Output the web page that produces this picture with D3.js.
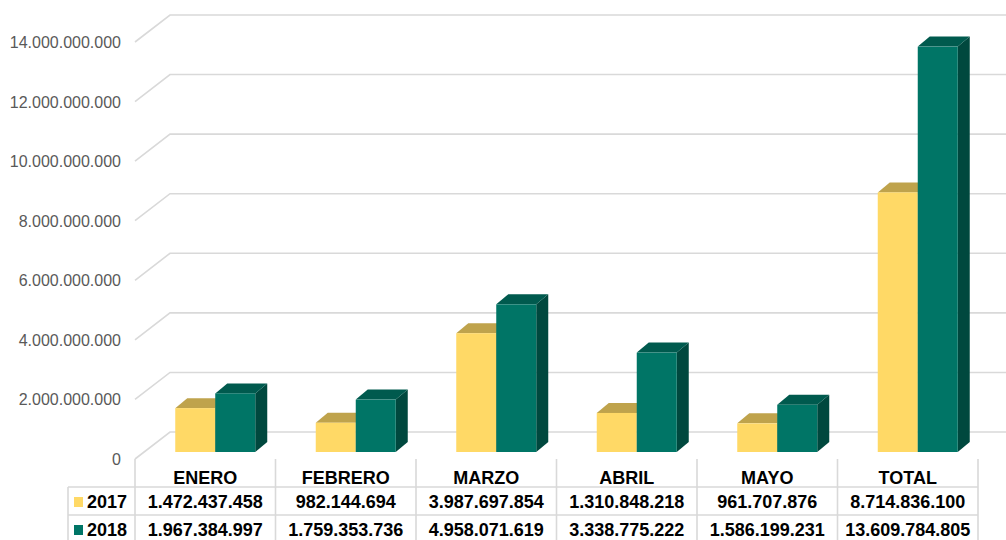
<!DOCTYPE html>
<html>
<head>
<meta charset="utf-8">
<script src="https://cdn.jsdelivr.net/npm/d3@7"></script>
<style>
  body { margin: 0; background: #fff; }
  svg { display: block; font-family: "Liberation Sans", Arial, sans-serif; }
</style>
</head>
<body>
<svg id="chart" width="1006" height="540"></svg>
<script>
// data
var categories = ["ENERO", "FEBRERO", "MARZO", "ABRIL", "MAYO", "TOTAL"];
var series = ["2017", "2018"];
var values2017 = [1472437458, 982144694, 3987697854, 1310848218, 961707876, 8714836100];
var values2018 = [1967384997, 1759353736, 4958071619, 3338775222, 1586199231, 13609784805];
var tickValues = [0, 2e9, 4e9, 6e9, 8e9, 10e9, 12e9, 14e9];

var colors = {
  "2017": { front: "#FFD966", top: "#BFA34C", side: "#A88E40" },
  "2018": { front: "#007566", top: "#005A4E", side: "#00483E" }
};

var svg = d3.select("#chart");

// the "0" plane sits at the front of the floor; walls go back by depth
var left = 135, right = 978, base = 459, topY = 42;
var wallDx = 35, wallDy = -27;
var barShiftX = 10, barShiftY = -7;   // bars sit a bit into the box
var barDx = 12, barDy = -10;          // depth of each bar

var x = d3.scaleBand().domain(categories).range([left, right]);
var y = d3.scaleLinear().domain([0, 14e9]).range([base, topY]);

var fmt = function(v) {
  return d3.format(",")(v).replace(/,/g, ".");
};

// gridlines: diagonal on the side wall, then across the back wall
var grid = svg.append("g").attr("stroke", "#D9D9D9").attr("stroke-width", 1.6).attr("fill", "none");
tickValues.forEach(function(t) {
  grid.append("polyline")
    .attr("points", [[left, y(t)], [left + wallDx, y(t) + wallDy], [1006, y(t) + wallDy]].map(function(p) { return p.join(","); }).join(" "));
});

// y tick labels
svg.append("g").selectAll("text")
  .data(tickValues)
  .enter().append("text")
  .attr("x", 121)
  .attr("y", function(d) { return y(d) + 6; })
  .attr("text-anchor", "end")
  .attr("font-size", 16)
  .attr("fill", "#595959")
  .text(function(d) { return fmt(d); });

// bars
var barW = 40;
var rows = [values2017, values2018];
var bars = svg.append("g");
categories.forEach(function(c, i) {
  var cx = x(c) + x.bandwidth() / 2 + barShiftX;
  series.forEach(function(s, j) {
    var v = rows[j][i];
    var x0 = cx - barW + j * barW, x1 = x0 + barW;
    var yb = y(0) + barShiftY, yt = y(v) + barShiftY;
    var col = colors[s];
    // side
    bars.append("polygon")
      .attr("points", [[x1, yb], [x1 + barDx, yb + barDy], [x1 + barDx, yt + barDy], [x1, yt]].join(" "))
      .attr("fill", col.side);
    // top
    bars.append("polygon")
      .attr("points", [[x0, yt], [x0 + barDx, yt + barDy], [x1 + barDx, yt + barDy], [x1, yt]].join(" "))
      .attr("fill", col.top);
    // front
    bars.append("rect")
      .attr("x", x0).attr("y", yt)
      .attr("width", barW).attr("height", yb - yt)
      .attr("fill", col.front);
  });
});

// data table
var rowH = 28;
var tableLeft = 68;
var table = svg.append("g").attr("stroke", "#D9D9D9").attr("stroke-width", 1.6);
// column separators from floor line down
categories.concat(["end"]).forEach(function(c, i) {
  var xx = i < categories.length ? x(c) : right;
  table.append("line").attr("x1", xx).attr("x2", xx).attr("y1", base).attr("y2", 540);
});
table.append("line").attr("x1", tableLeft).attr("x2", tableLeft).attr("y1", base + rowH).attr("y2", 540);
[1, 2, 3].forEach(function(r) {
  table.append("line").attr("x1", tableLeft).attr("x2", right)
    .attr("y1", base + r * rowH).attr("y2", base + r * rowH);
});

var txt = svg.append("g").attr("font-size", 18).attr("font-weight", "bold").attr("fill", "#000");
txt.selectAll("text.cat")
  .data(categories)
  .enter().append("text")
  .attr("class", "cat")
  .attr("x", function(d) { return x(d) + x.bandwidth() / 2; })
  .attr("y", base + 25)
  .attr("text-anchor", "middle")
  .text(function(d) { return d; });

series.forEach(function(s, j) {
  var by = base + (j + 1) * rowH + 21;
  svg.append("rect")
    .attr("x", 74).attr("y", by - 11)
    .attr("width", 9).attr("height", 10)
    .attr("fill", colors[s].front);
  txt.append("text")
    .attr("x", 87).attr("y", by)
    .text(s);
  txt.selectAll("text.v" + s)
    .data(rows[j])
    .enter().append("text")
    .attr("class", "v" + s)
    .attr("x", function(d, i) { return x(categories[i]) + x.bandwidth() / 2; })
    .attr("y", by)
    .attr("text-anchor", "middle")
    .text(function(d) { return fmt(d); });
});
</script>
</body>
</html>
